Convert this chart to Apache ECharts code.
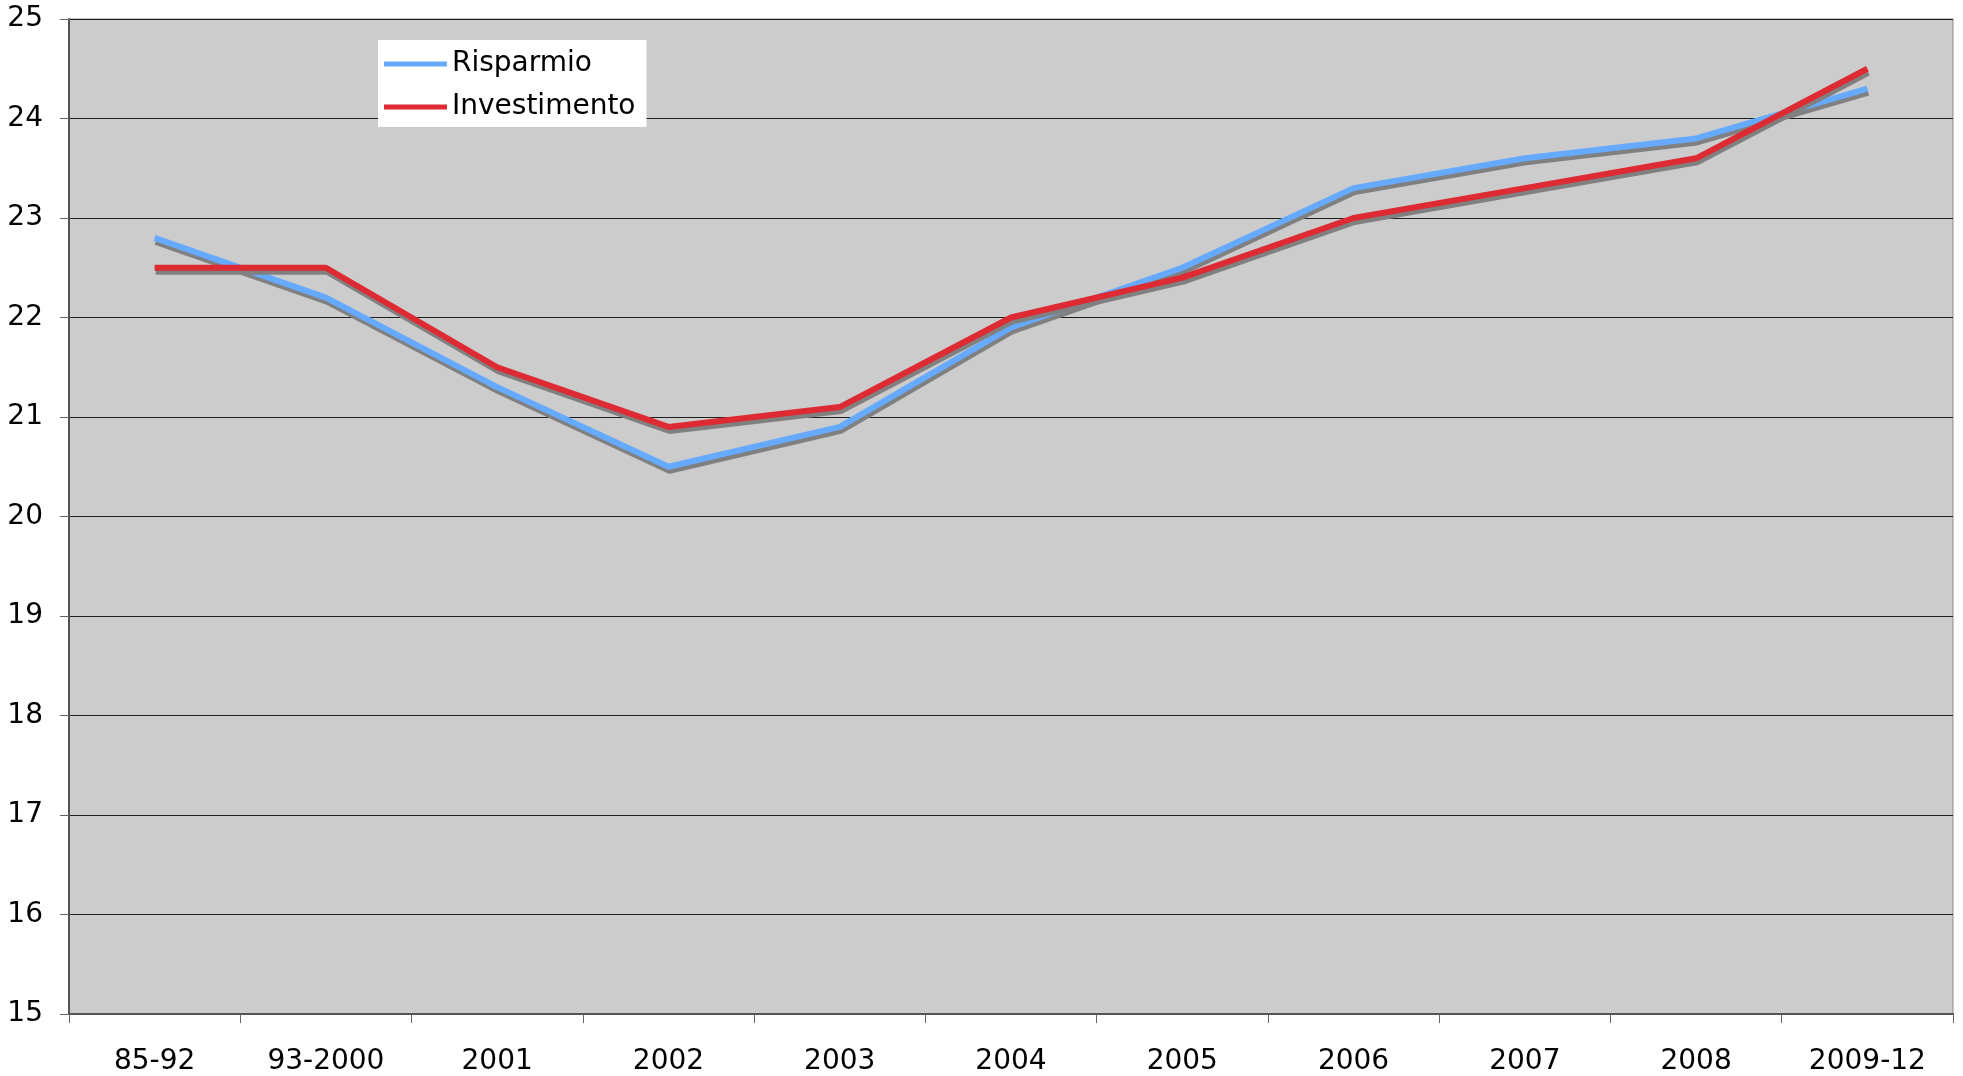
<!DOCTYPE html>
<html>
<head>
<meta charset="utf-8"/>
<title>Risparmio e Investimento</title>
<script src="https://cdn.jsdelivr.net/npm/echarts@6/dist/echarts.min.js"></script>
<style>
  html, body { margin: 0; padding: 0; background: #fff; }
  #main { width: 1963px; height: 1076px; }
</style>
</head>
<body>
<div id="main"></div>
<script>
// dati
var periodi = ['85-92', '93-2000', '2001', '2002', '2003', '2004', '2005', '2006', '2007', '2008', '2009-12'];
var risparmio = [22.8, 22.2, 21.3, 20.5, 20.9, 21.9, 22.5, 23.3, 23.6, 23.8, 24.3];
var investimento = [22.5, 22.5, 21.5, 20.9, 21.1, 22.0, 22.4, 23.0, 23.3, 23.6, 24.5];

var font = 'Verdana, "DejaVu Sans", sans-serif';

function serie(nome, dati, colore) {
    return {
        name: nome,
        type: 'line',
        data: dati,
        showSymbol: false,
        symbol: 'none',
        animation: false,
        lineStyle: {
            color: colore,
            width: 6,
            shadowColor: '#808080',
            shadowOffsetX: 1,
            shadowOffsetY: 4,
            shadowBlur: 0
        },
        itemStyle: { color: colore }
    };
}

var myChart = echarts.init(document.getElementById('main'));
var option = {
    backgroundColor: '#ffffff',
    animation: false,
    grid: {
        left: 69,
        right: 10,
        top: 19,
        bottom: 61,
        show: true,
        backgroundColor: '#cccccc',
        borderColor: '#8a8a8a',
        borderWidth: 1
    },
    legend: {
        orient: 'vertical',
        left: 378,
        top: 40,
        backgroundColor: '#ffffff',
        padding: [10, 11, 6, 6],
        itemGap: 15,
        icon: 'rect',
        itemWidth: 63,
        itemHeight: 5,
        textStyle: { fontFamily: font, fontSize: 28, color: '#000' },
        data: ['Risparmio', 'Investimento']
    },
    xAxis: {
        type: 'category',
        data: periodi,
        boundaryGap: true,
        axisLine: { lineStyle: { color: '#555', width: 2 } },
        axisTick: { show: true, length: 9, lineStyle: { color: '#666' } },
        axisLabel: { fontFamily: font, fontSize: 28, color: '#000', margin: 34 },
        splitLine: { show: false }
    },
    yAxis: {
        type: 'value',
        min: 15,
        max: 25,
        interval: 1,
        axisLine: { show: true, lineStyle: { color: '#555', width: 2 } },
        axisTick: { show: true, length: 9, lineStyle: { color: '#666' } },
        axisLabel: { fontFamily: font, fontSize: 28, color: '#000', margin: 26 },
        splitLine: { show: true, lineStyle: { color: '#1e1e1e', width: 1 } }
    },
    series: [
        serie('Risparmio', risparmio, '#66aaff'),
        serie('Investimento', investimento, '#dd2a33')
    ]
};
myChart.setOption(option);
</script>
</body>
</html>
